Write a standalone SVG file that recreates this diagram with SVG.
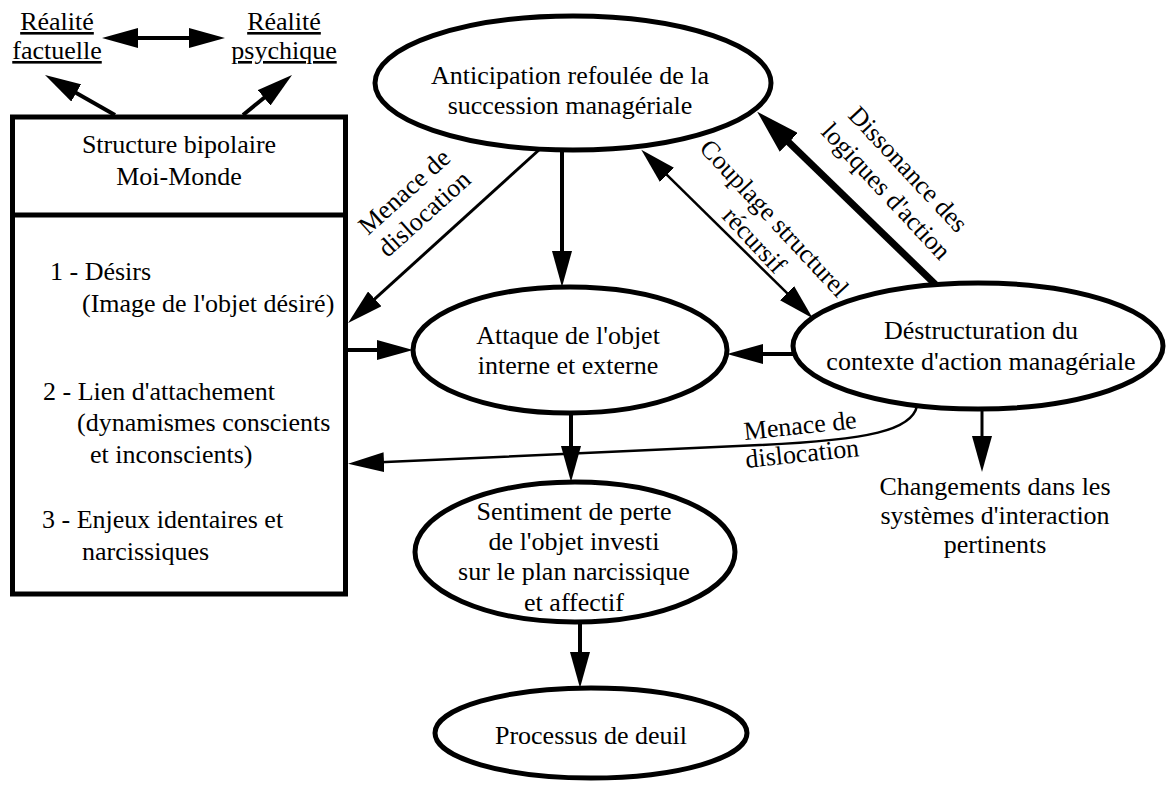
<svg xmlns="http://www.w3.org/2000/svg" width="1167" height="787" viewBox="0 0 1167 787">
  <style>
    .t { font-family: "Liberation Serif", "Times New Roman", serif; font-size: 26px; fill: #000; }
    .m { text-anchor: middle; }
    .u { text-decoration: underline; }
    .node { fill: #fff; stroke: #000; stroke-width: 5; }
    .w4 { fill: none; stroke: #000; stroke-width: 4; }
    .w3 { fill: none; stroke: #000; stroke-width: 3; }
    .w25 { fill: none; stroke: #000; stroke-width: 2.5; }
    .w7 { fill: none; stroke: #000; stroke-width: 7; }
  </style>
  <defs>
    <marker id="ah" viewBox="0 0 36 20" refX="4" refY="10" markerWidth="36" markerHeight="20" markerUnits="userSpaceOnUse" orient="auto-start-reverse">
      <path d="M0,0 L36,10 L0,20 Z" fill="#000"/>
    </marker>
    <marker id="ahb" viewBox="0 0 44 26" refX="4" refY="13" markerWidth="44" markerHeight="26" markerUnits="userSpaceOnUse" orient="auto">
      <path d="M0,0 L44,13 L0,26 Z" fill="#000"/>
    </marker>
  </defs>
  <rect width="1167" height="787" fill="#fff"/>

  <g id="connectors">
    <!-- réalité factuelle <-> réalité psychique -->
    <line class="w4" x1="134" y1="38" x2="193" y2="38" marker-start="url(#ah)" marker-end="url(#ah)"/>
    <!-- structure box to the two realities -->
    <line class="w4" x1="115" y1="115" x2="72.8" y2="90.9" marker-end="url(#ah)"/>
    <line class="w4" x1="243" y1="115" x2="267.2" y2="95.3" marker-end="url(#ah)"/>
    <!-- anticipation -> attaque -->
    <line class="w4" x1="562" y1="150" x2="562" y2="255" marker-end="url(#ah)"/>
    <!-- structure box -> attaque -->
    <line class="w4" x1="348" y1="350" x2="381" y2="350" marker-end="url(#ah)"/>
    <!-- déstructuration -> attaque -->
    <line class="w4" x1="795" y1="354" x2="759" y2="354" marker-end="url(#ah)"/>
    <!-- attaque -> sentiment -->
    <line class="w4" x1="571" y1="413" x2="571" y2="450" marker-end="url(#ah)"/>
    <!-- sentiment -> deuil -->
    <line class="w4" x1="580" y1="622" x2="580" y2="656" marker-end="url(#ah)"/>
    <!-- déstructuration -> changements -->
    <line class="w3" x1="982" y1="408" x2="982" y2="440" marker-end="url(#ah)"/>
    <!-- menace de dislocation (upper) -->
    <line class="w3" x1="540" y1="149" x2="371.8" y2="301.6" marker-end="url(#ah)"/>
    <!-- couplage structurel récursif -->
    <line class="w25" x1="664.1" y1="172.1" x2="789.9" y2="295.9" marker-start="url(#ah)" marker-end="url(#ah)"/>
    <!-- dissonance des logiques d'action -->
    <line class="w7" x1="937" y1="286" x2="785.9" y2="139.6" marker-end="url(#ahb)"/>
    <!-- menace de dislocation (lower, curved) -->
    <path class="w25" d="M917,406 C912,430 870,440 760,445 L380,462.3" marker-end="url(#ah)"/>

    <!-- connector labels -->
    <text class="t m" transform="translate(410,198) rotate(-42)">Menace de</text>
    <text class="t m" transform="translate(430,220) rotate(-42)">dislocation</text>
    <text class="t m" transform="translate(768,224) rotate(47)">Couplage structurel</text>
    <text class="t m" transform="translate(748,246) rotate(47)">récursif</text>
    <text class="t m" transform="translate(902,175) rotate(47)">Dissonance des</text>
    <text class="t m" transform="translate(880,197) rotate(47)">logiques d'action</text>
    <text class="t m" transform="translate(801,434) rotate(-6)">Menace de</text>
    <text class="t m" transform="translate(803,462) rotate(-6)">dislocation</text>
  </g>

  <g id="realite-factuelle">
    <text class="t m u" x="57" y="30">Réalité</text>
    <text class="t m u" x="57" y="59">factuelle</text>
  </g>
  <g id="realite-psychique">
    <text class="t m u" x="284" y="30">Réalité</text>
    <text class="t m u" x="284" y="59">psychique</text>
  </g>

  <g id="structure">
    <rect class="node" x="12.5" y="117" width="333" height="477"/>
    <line x1="12.5" y1="215" x2="345.5" y2="215" stroke="#000" stroke-width="5"/>
    <text class="t m" x="179" y="153">Structure bipolaire</text>
    <text class="t m" x="179" y="185">Moi-Monde</text>
    <text class="t" x="50" y="280">1 - Désirs</text>
    <text class="t" x="82" y="312">(Image de l'objet désiré)</text>
    <text class="t" x="43" y="400">2 - Lien d'attachement</text>
    <text class="t" x="77" y="431">(dynamismes conscients</text>
    <text class="t" x="90" y="463">et inconscients)</text>
    <text class="t" x="42" y="528">3 - Enjeux identaires et</text>
    <text class="t" x="82" y="560">narcissiques</text>
  </g>

  <g id="anticipation">
    <ellipse class="node" cx="573" cy="83" rx="198" ry="67"/>
    <text class="t m" x="570" y="84">Anticipation refoulée de la</text>
    <text class="t m" x="570" y="114">succession managériale</text>
  </g>

  <g id="attaque">
    <ellipse class="node" cx="570" cy="350" rx="157" ry="63"/>
    <text class="t m" x="568" y="344">Attaque de l'objet</text>
    <text class="t m" x="568" y="374">interne et externe</text>
  </g>

  <g id="destructuration">
    <ellipse class="node" cx="978" cy="346" rx="185" ry="63"/>
    <text class="t m" x="981" y="339">Déstructuration du</text>
    <text class="t m" x="981" y="370">contexte d'action managériale</text>
  </g>

  <g id="changements">
    <text class="t m" x="995" y="495">Changements dans les</text>
    <text class="t m" x="995" y="524">systèmes d'interaction</text>
    <text class="t m" x="995" y="553">pertinents</text>
  </g>

  <g id="sentiment">
    <ellipse class="node" cx="575" cy="552" rx="160" ry="70"/>
    <text class="t m" x="574" y="520">Sentiment de perte</text>
    <text class="t m" x="574" y="550">de l'objet investi</text>
    <text class="t m" x="574" y="580">sur le plan narcissique</text>
    <text class="t m" x="574" y="611">et affectif</text>
  </g>

  <g id="deuil">
    <ellipse class="node" cx="591" cy="733" rx="156" ry="45"/>
    <text class="t m" x="591" y="744">Processus de deuil</text>
  </g>
</svg>
